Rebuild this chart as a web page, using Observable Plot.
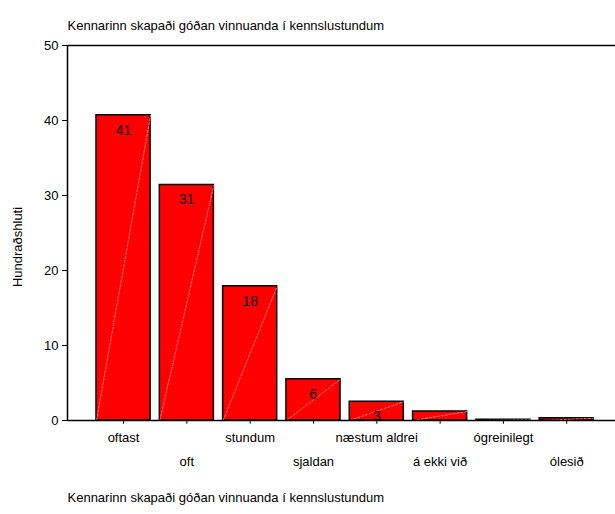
<!DOCTYPE html>
<html>
<head>
<meta charset="utf-8">
<script src="https://cdn.jsdelivr.net/npm/d3@7"></script>
<script src="https://cdn.jsdelivr.net/npm/@observablehq/plot@0.6"></script>
<style>
  body { margin: 0; background: #fff; }
  svg { font-family: Arial, "Liberation Sans", sans-serif; }
</style>
</head>
<body>
<div id="chart"></div>
<script>
const title = "Kennarinn skapaði góðan vinnuanda í kennslustundum";
const yLabel = "Hundraðshluti";
const categories = ["oftast", "oft", "stundum", "sjaldan", "næstum aldrei", "á ekki við", "ógreinilegt", "ólesið"];
const values = [40.7, 31.4, 17.9, 5.5, 2.5, 1.2, 0.1, 0.3];
const barLabels = ["41", "31", "18", "6", "3", "", "", ""];
const yTicks = [0, 10, 20, 30, 40, 50];

const data = categories.map((c, i) => ({i, c, v: values[i], lab: barLabels[i]}));
const half = 0.427;
const x0 = -0.885;

const plot = Plot.plot({
  width: 615,
  height: 514,
  marginLeft: 67,
  marginRight: 0,
  marginTop: 45,
  marginBottom: 94,
  style: {fontFamily: "Arial, 'Liberation Sans', sans-serif", fontSize: "13px", color: "#000", background: "#fff"},
  x: {type: "linear", domain: [x0, 7.77], axis: null},
  y: {type: "linear", domain: [0, 50], axis: null},
  marks: [
    Plot.rect(data, {x1: d => d.i - half, x2: d => d.i + half, y1: 0, y2: "v", fill: "#ff0000", stroke: "#000", strokeWidth: 1.5}),
    Plot.link(data, {x1: d => d.i - half, x2: d => d.i + half, y1: 0, y2: "v", stroke: "#ffb3b3", strokeWidth: 0.7, strokeDasharray: "3,1"}),
    Plot.text(data.filter(d => d.lab), {x: "i", y: "v", text: "lab", dy: 15, fontSize: 14, fill: "#000"}),
    // y axis
    Plot.ruleX([x0], {y1: 0, y2: 50, stroke: "#000", strokeWidth: 1.5}),
    Plot.ruleY(yTicks, {y: d => d, x1: x0 - 0.079, x2: x0, stroke: "#000", strokeWidth: 1}),
    Plot.text(yTicks, {y: d => d, frameAnchor: "left", dx: -9, textAnchor: "end", text: d => String(d), fontSize: 13, fill: "#000"}),
    // top frame line and x axis line
    Plot.ruleY([50], {x1: x0, x2: 7.77, stroke: "#000", strokeWidth: 1.5}),
    Plot.ruleY([0], {x1: x0, x2: 7.77, stroke: "#000", strokeWidth: 1.5}),
    // x ticks
    Plot.ruleX(data, {x: "i", y1: 0, y2: -0.5, stroke: "#000", strokeWidth: 1}),
    Plot.text(data.filter(d => d.i % 2 === 0), {x: "i", frameAnchor: "bottom", dy: 21, text: "c", fontSize: 13, fill: "#000"}),
    Plot.text(data.filter(d => d.i % 2 === 1), {x: "i", frameAnchor: "bottom", dy: 45, text: "c", fontSize: 13, fill: "#000"}),
    // y label
    Plot.text([yLabel], {frameAnchor: "left", textAnchor: "middle", dx: -50, dy: 14, rotate: -90, fontSize: 13, fill: "#000"}),
    // title and caption
    Plot.text([title], {frameAnchor: "top-left", dy: -25, textAnchor: "start", fontSize: 13, fill: "#000"}),
    Plot.text([title], {frameAnchor: "bottom-left", dy: 81, textAnchor: "start", fontSize: 13, fill: "#000"})
  ]
});
document.getElementById("chart").appendChild(plot);
</script>
</body>
</html>
